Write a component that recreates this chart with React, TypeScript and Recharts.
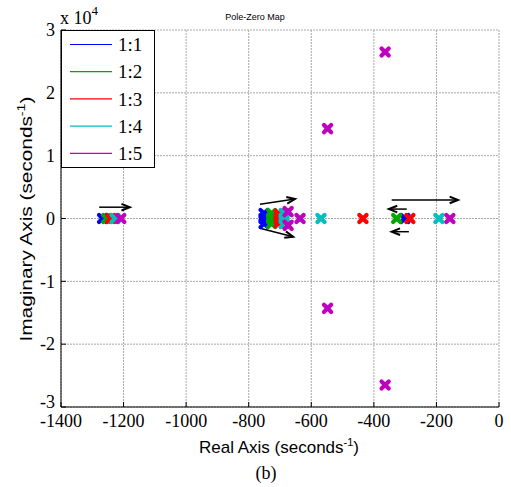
import { ScatterChart, Scatter, XAxis, YAxis, CartesianGrid, ReferenceLine, Legend } from 'recharts';

const seriesNames = ['1:1', '1:2', '1:3', '1:4', '1:5'];
const seriesColors = ['#0000ff', '#00a800', '#ff0000', '#00bfbf', '#bf00bf'];

// poles: real / imaginary part, seconds^-1
const poles11 = [
  { re: -1267, im: 0 },
  { re: -751, im: 800 }, { re: -751, im: 0 }, { re: -751, im: -800 },
  { re: -301, im: 0 },
];
const poles12 = [
  { re: -1254, im: 0 },
  { re: -727, im: 800 }, { re: -727, im: 0 }, { re: -727, im: -800 },
  { re: -327, im: 0 },
];
const poles13 = [
  { re: -1241, im: 0 },
  { re: -703, im: 700 }, { re: -703, im: 0 }, { re: -703, im: -700 },
  { re: -435, im: 0 },
  { re: -285, im: 0 },
];
const poles14 = [
  { re: -1227, im: 0 },
  { re: -687, im: 800 }, { re: -687, im: 0 }, { re: -687, im: -800 },
  { re: -569, im: 0 },
  { re: -192, im: 0 },
];
const poles15 = [
  { re: -1209, im: 0 },
  { re: -674, im: 1100 }, { re: -674, im: -1100 },
  { re: -636, im: 0 },
  { re: -548, im: 14300 }, { re: -548, im: -14300 },
  { re: -364, im: 26500 }, { re: -364, im: -26500 },
  { re: -157, im: 0 },
];
const allPoles = [poles11, poles12, poles13, poles14, poles15];

const xTicks = [-1400, -1200, -1000, -800, -600, -400, -200, 0];
const yTicks = [-30000, -20000, -10000, 0, 10000, 20000, 30000];

// arrows showing how the poles move
const arrows = [
  { x1: -1278, y1: 1800, x2: -1180, y2: 1800 },
  { x1: -764, y1: 2260, x2: -652, y2: 3100 },
  { x1: -767, y1: -1500, x2: -658, y2: -2900 },
  { x1: -343, y1: 2950, x2: -131, y2: 2950 },
  { x1: -295, y1: 1500, x2: -352, y2: 1500 },
  { x1: -288, y1: -2100, x2: -343, y2: -2100 },
];

const serif = 'Liberation Serif';
const sans = 'Liberation Sans';

const cross = (color: string) => (props: any) => {
  const { cx, cy } = props;
  const h = 3.6;
  return (
    <g stroke={color} strokeWidth={4.2} strokeLinecap="round">
      <line x1={cx - h} y1={cy - h} x2={cx + h} y2={cy + h} />
      <line x1={cx - h} y1={cy + h} x2={cx + h} y2={cy - h} />
    </g>
  );
};

const arrowShape = (props: any) => {
  const { x1, y1, x2, y2 } = props;
  const a = Math.atan2(y2 - y1, x2 - x1);
  const len = 9;
  const spread = 0.38;
  const p1 = [x2 - len * Math.cos(a - spread), y2 - len * Math.sin(a - spread)];
  const p2 = [x2 - len * Math.cos(a + spread), y2 - len * Math.sin(a + spread)];
  return (
    <g stroke="#000" fill="none">
      <line x1={x1} y1={y1} x2={x2} y2={y2} strokeWidth={1.5} />
      <polyline points={`${p1[0]},${p1[1]} ${x2},${y2} ${p2[0]},${p2[1]}`} strokeWidth={2} />
    </g>
  );
};

const XTick = (props: any) => {
  const { x, y, payload } = props;
  return (
    <text x={x} y={y + 13} textAnchor="middle" fontFamily={serif} fontSize={18} fill="#000">
      {payload.value}
    </text>
  );
};

const YTick = (props: any) => {
  const { x, y, payload } = props;
  const v = payload.value / 10000;
  return (
    <text x={x} y={y + (v === -3 ? -5 : 0)} dy="0.35em" textAnchor="end" fontFamily={serif} fontSize={18} fill="#000">
      {String(v)}
    </text>
  );
};

const renderLegend = (props: any) => {
  const items = props.payload || [];
  return (
    <svg width={94} height={138} style={{ display: 'block' }}>
      <rect x={0.5} y={0.5} width={93} height={137} fill="#fff" stroke="#000" />
      {items.map((it: any, i: number) => (
        <g key={i}>
          <line x1={9} x2={51} y1={14.5 + i * 27.2} y2={14.5 + i * 27.2} stroke={it.color} strokeWidth={1.2} />
          <text x={57} y={14.5 + i * 27.2} dy="0.35em" fontFamily={serif} fontSize={19} fill="#000">
            {it.value}
          </text>
        </g>
      ))}
    </svg>
  );
};

export default function App() {
  return (
    <div style={{ position: 'absolute', left: 0, top: 0, width: 511, height: 487, background: '#fff' }}>
      <ScatterChart width={511} height={487} margin={{ top: 30, right: 12, bottom: 0, left: 0 }}>
        <CartesianGrid stroke="#a8a8a8" strokeDasharray="2 1" />
        <XAxis
          type="number"
          dataKey="re"
          domain={[-1400, 0]}
          ticks={xTicks}
          allowDataOverflow
          height={80}
          tick={<XTick />}
          tickSize={-5}
          tickMargin={12}
          stroke="#000"
          interval={0}
        />
        <YAxis
          type="number"
          dataKey="im"
          domain={[-30000, 30000]}
          ticks={yTicks}
          allowDataOverflow
          width={61}
          tick={<YTick />}
          tickSize={-5}
          tickMargin={11}
          stroke="#000"
          interval={0}
        />
        <XAxis
          xAxisId="top"
          orientation="top"
          type="number"
          domain={[-1400, 0]}
          ticks={xTicks}
          allowDataOverflow
          height={0}
          tickSize={-5}
          tickFormatter={() => ''}
          stroke="#000"
          interval={0}
        />
        <YAxis
          yAxisId="right"
          orientation="right"
          type="number"
          domain={[-30000, 30000]}
          ticks={yTicks}
          allowDataOverflow
          width={0}
          tickSize={-5}
          tickFormatter={() => ''}
          stroke="#000"
          interval={0}
        />
        {allPoles.map((pts, i) => (
          <Scatter
            key={seriesNames[i]}
            name={seriesNames[i]}
            data={pts}
            fill={seriesColors[i]}
            shape={cross(seriesColors[i])}
            isAnimationActive={false}
          />
        ))}
        {arrows.map((a, i) => (
          <ReferenceLine
            key={i}
            segment={[{ x: a.x1, y: a.y1 }, { x: a.x2, y: a.y2 }]}
            stroke="#000"
            shape={arrowShape}
          />
        ))}
        <Legend
          layout="vertical"
          align="center"
          verticalAlign="middle"
          content={renderLegend}
          wrapperStyle={{ left: 61, top: 30, width: 94, height: 138 }}
        />
      </ScatterChart>
      <svg width={511} height={487} style={{ position: 'absolute', left: 0, top: 0, pointerEvents: 'none' }}>
        <text x={255} y={20} textAnchor="middle" fontFamily={sans} fontSize={9} fill="#000">Pole-Zero Map</text>
        <text x={60} y={24} fontFamily={serif} fontSize={18} fill="#000">
          x 10<tspan dy={-9} fontSize={13}>4</tspan>
        </text>
        <text x={279} y={453} textAnchor="middle" fontFamily={sans} fontSize={17} fill="#000">
          Real Axis (seconds<tspan dy={-7} fontSize={11}>-1</tspan><tspan dy={7}>)</tspan>
        </text>
        <text
          transform="translate(32,219) rotate(-90)"
          textAnchor="middle"
          fontFamily={sans}
          fontSize={16}
          textLength={245}
          lengthAdjust="spacingAndGlyphs"
          fill="#000"
        >
          Imaginary Axis (seconds<tspan dy={-7} fontSize={11}>-1</tspan><tspan dy={7}>)</tspan>
        </text>
        <text x={266} y={479} textAnchor="middle" fontFamily={serif} fontSize={18} fill="#000">(b)</text>
      </svg>
    </div>
  );
}
